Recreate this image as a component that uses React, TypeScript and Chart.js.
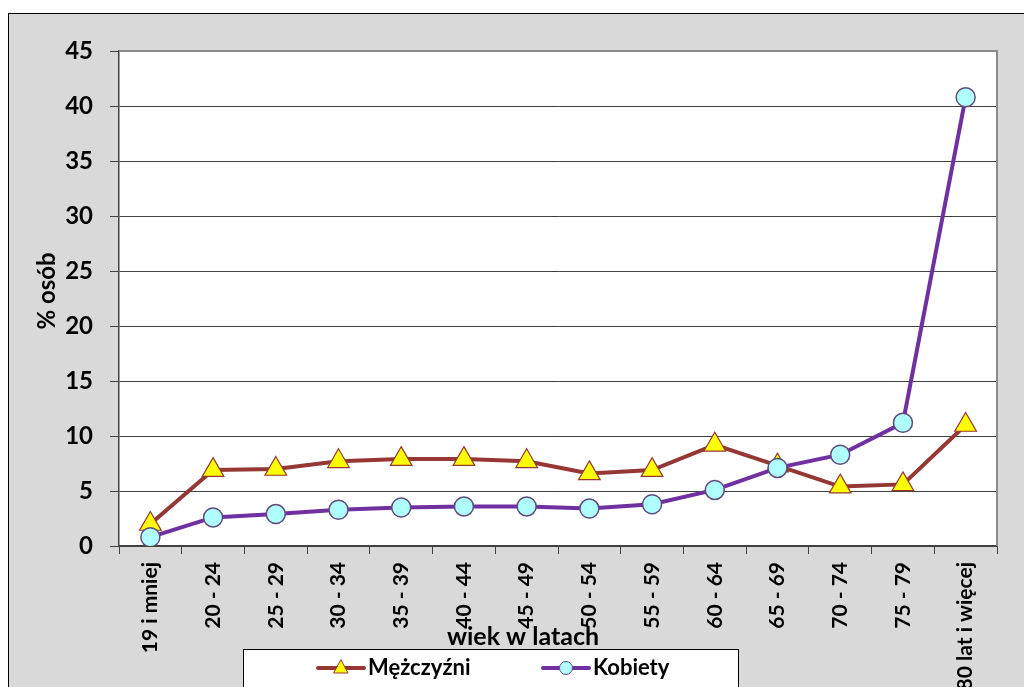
import React, { useEffect, useRef } from "react";
import { Chart, registerables } from "chart.js";

Chart.register(...registerables);

const categories = [
  "19 i mniej", "20 - 24", "25 - 29", "30 - 34", "35 - 39", "40 - 44", "45 - 49",
  "50 - 54", "55 - 59", "60 - 64", "65 - 69", "70 - 74", "75 - 79", "80 lat i więcej",
];
const menValues = [2.0, 6.9, 7.0, 7.7, 7.9, 7.9, 7.7, 6.6, 6.9, 9.2, 7.3, 5.4, 5.6, 11.0];
const womenValues = [0.8, 2.6, 2.9, 3.3, 3.5, 3.6, 3.6, 3.4, 3.8, 5.1, 7.1, 8.3, 11.2, 40.8];
const yTicks = [0, 5, 10, 15, 20, 25, 30, 35, 40, 45];
const menLabel = "Mężczyźni";
const womenLabel = "Kobiety";
const xTitle = "wiek w latach";
const yTitle = "% osób";

const FONT = "Lato, 'Open Sans', sans-serif";
const MEN_LINE = "#953735";
const MEN_FILL = "#ffff00";
const WOMEN_LINE = "#7030a0";
const WOMEN_FILL = "#afffff";
const WOMEN_BORDER = "#604a7b";

const decorPlugin = {
  id: "decor",
  beforeDraw(chart: any) {
    const { ctx, chartArea: a } = chart;
    ctx.save();
    ctx.fillStyle = "#ffffff";
    ctx.fillRect(a.left, a.top, a.right - a.left, a.bottom - a.top);
    ctx.restore();
  },
  beforeDatasetsDraw(chart: any) {
    const { ctx, chartArea: a } = chart;
    ctx.save();
    ctx.strokeStyle = "#8c8c8c";
    ctx.lineWidth = 2;
    ctx.beginPath();
    ctx.moveTo(a.left, a.top);
    ctx.lineTo(a.right, a.top);
    ctx.lineTo(a.right, a.bottom);
    ctx.stroke();
    ctx.restore();
  },
  afterDraw(chart: any) {
    const { ctx } = chart;
    ctx.save();
    // y title
    ctx.fillStyle = "#000";
    ctx.font = `bold 24px ${FONT}`;
    ctx.textAlign = "center";
    ctx.textBaseline = "middle";
    ctx.translate(38, 277);
    ctx.rotate(-Math.PI / 2);
    ctx.fillText(yTitle, 0, 0);
    ctx.restore();

    ctx.save();
    ctx.fillStyle = "#000";
    ctx.font = `bold 25px ${FONT}`;
    ctx.textAlign = "center";
    ctx.textBaseline = "alphabetic";
    ctx.fillText(xTitle, 514, 631);
    ctx.restore();

    // legend box
    ctx.save();
    const bx = 234, by = 635, bw = 495, bh = 38;
    ctx.fillStyle = "#ffffff";
    ctx.fillRect(bx, by, bw, bh);
    ctx.strokeStyle = "#000";
    ctx.lineWidth = 1;
    ctx.strokeRect(bx + 0.5, by + 0.5, bw, bh);
    const cy = by + 19;
    // men sample
    ctx.strokeStyle = MEN_LINE;
    ctx.lineWidth = 4;
    ctx.lineCap = "round";
    ctx.beginPath();
    ctx.moveTo(309, cy);
    ctx.lineTo(355, cy);
    ctx.stroke();
    ctx.fillStyle = MEN_FILL;
    ctx.strokeStyle = MEN_LINE;
    ctx.lineWidth = 1;
    ctx.beginPath();
    ctx.moveTo(332, cy - 8);
    ctx.lineTo(339, cy + 5);
    ctx.lineTo(325, cy + 5);
    ctx.closePath();
    ctx.fill();
    ctx.stroke();
    // women sample
    ctx.strokeStyle = WOMEN_LINE;
    ctx.lineWidth = 4;
    ctx.beginPath();
    ctx.moveTo(534, cy);
    ctx.lineTo(580, cy);
    ctx.stroke();
    ctx.fillStyle = WOMEN_FILL;
    ctx.strokeStyle = WOMEN_BORDER;
    ctx.lineWidth = 1;
    ctx.beginPath();
    ctx.arc(557, cy, 6.5, 0, Math.PI * 2);
    ctx.fill();
    ctx.stroke();
    ctx.fillStyle = "#000";
    ctx.font = `bold 22px ${FONT}`;
    ctx.textAlign = "left";
    ctx.textBaseline = "middle";
    ctx.fillText(menLabel, 359, cy);
    ctx.fillText(womenLabel, 584, cy);
    ctx.restore();
  },
};

export default function App() {
  const ref = useRef<HTMLCanvasElement | null>(null);
  useEffect(() => {
    document.body.style.overflow = "hidden";
    const canvas = ref.current!;
    const chart = new Chart(canvas, {
      type: "line",
      data: {
        labels: categories,
        datasets: [
          {
            label: menLabel,
            data: menValues,
            borderColor: MEN_LINE,
            borderWidth: 4,
            backgroundColor: MEN_FILL,
            pointStyle: "triangle",
            pointRadius: 12.5,
            pointBorderColor: MEN_LINE,
            pointBorderWidth: 1.2,
            pointBackgroundColor: MEN_FILL,
            tension: 0,
            order: 2,
          },
          {
            label: womenLabel,
            data: womenValues,
            borderColor: WOMEN_LINE,
            borderWidth: 4,
            backgroundColor: WOMEN_FILL,
            pointStyle: "circle",
            pointRadius: 9.5,
            pointBorderColor: WOMEN_BORDER,
            pointBorderWidth: 1.5,
            pointBackgroundColor: WOMEN_FILL,
            tension: 0,
            order: 1,
          },
        ],
      },
      options: {
        animation: false,
        responsive: false,
        maintainAspectRatio: false,
        layout: { padding: { top: 37, right: 27, left: 0, bottom: 0 } },
        plugins: {
          legend: { display: false },
          tooltip: { enabled: false },
          title: { display: false },
        },
        scales: {
          x: {
            type: "category",
            offset: true,
            afterFit(scale: any) {
              scale.height = 141;
            },
            grid: {
              offset: true,
              drawOnChartArea: false,
              drawTicks: true,
              tickLength: 8,
              color: "#404040",
              lineWidth: 1,
            },
            border: { display: true, color: "#404040", width: 1.5 },
            ticks: {
              autoSkip: false,
              minRotation: 90,
              maxRotation: 90,
              padding: 8,
              color: "#000",
              font: { family: FONT, size: 21, weight: "bold" },
            },
          },
          y: {
            min: 0,
            max: 45,
            afterFit(scale: any) {
              scale.width = 110;
            },
            afterBuildTicks(scale: any) {
              scale.ticks = yTicks.map((v) => ({ value: v }));
            },
            grid: {
              color: "#404040",
              lineWidth: 1,
              drawTicks: true,
              tickLength: 9,
            },
            border: { display: true, color: "#404040", width: 1.5 },
            ticks: {
              padding: 17,
              color: "#000",
              font: { family: FONT, size: 24, weight: "bold" },
            },
          },
        },
      },
      plugins: [decorPlugin],
    } as any);
    return () => chart.destroy();
  }, []);

  return (
    <div
      style={{
        position: "absolute",
        left: 8,
        top: 13,
        width: 1016,
        height: 674,
        boxSizing: "border-box",
        borderTop: "1px solid #000",
        borderLeft: "1px solid #000",
        background: "#d9d9d9",
        overflow: "hidden",
      }}
    >
      <canvas ref={ref} width={1015} height={673} style={{ display: "block", width: 1015, height: 673 }} />
    </div>
  );
}
